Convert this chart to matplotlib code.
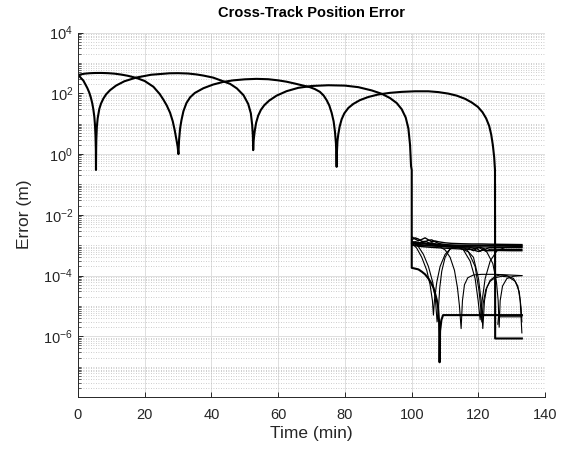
import matplotlib
matplotlib.use("Agg")
import matplotlib.pyplot as plt
from matplotlib.ticker import LogLocator, LogFormatterSciNotation, NullFormatter, FixedLocator

plt.rcParams['font.family'] = ['Liberation Sans', 'DejaVu Sans']
plt.rcParams['mathtext.fontset'] = 'custom'
plt.rcParams['mathtext.rm'] = 'Liberation Sans'
plt.rcParams['mathtext.it'] = 'Liberation Sans:italic'
plt.rcParams['axes.unicode_minus'] = False

# --- main track errors (two interleaved solutions) ---
a_time = [0, 0.5, 1.0, 1.6, 2.2, 2.8, 3.4, 3.9, 4.3, 4.6, 4.9, 5.1, 5.25, 5.35, 5.4,
          5.45, 5.5, 5.65, 5.9, 6.4, 6.9, 7.6, 8.4, 9.6, 11.4, 13.9, 17.4, 21.9, 27.4,
          30.0, 33.0, 35.5, 37.6, 40.5, 43.5, 45.6, 47.6, 49.6, 51.0, 51.8, 52.2, 52.4, 52.5,
          52.6, 52.75, 53.0, 53.4, 54.0, 54.8, 55.8, 57.3, 59.5, 62.5, 66.0, 70.0, 75.0,
          80.0, 84.0, 88.0, 91.0, 93.5, 95.5, 97.0, 98.2, 99.0, 99.5, 99.8, 100.0,
          100.0, 101.0, 102.0, 103.0, 104.0, 105.0, 105.8, 106.5, 107.0, 107.5, 107.9,
          108.2, 108.35, 108.5, 108.9, 109.4, 133.0]
a_err = [400, 360, 310, 265, 200, 150, 105, 70, 46, 30, 17, 9, 4, 1.5, 0.3,
         1.5, 3.1, 7.7, 15, 31, 46, 67, 92, 127, 180, 250, 330, 410, 458,
         462, 450, 420, 385, 330, 250, 205, 146, 87, 45, 22, 9, 4, 1.35,
         2.5, 3.7, 6.2, 11, 18.5, 28.5, 40.5, 58, 84, 118, 152, 175, 185,
         180, 160, 125, 97, 70, 48, 30, 16, 7, 2, 0.4, 0.3,
         1.8e-4, 1.7e-4, 1.6e-4, 1.35e-4, 1.1e-4, 8e-5, 5.8e-5, 4e-5, 2.6e-5, 1.6e-5, 9e-6,
         3e-6, 1.4e-7, 1.5e-6, 3.5e-6, 5e-6, 5e-6]

b_time = [0, 1.0, 2.0, 3.5, 5.0, 7.0, 9.0, 11.0, 13.0, 15.0, 17.6, 20.0, 22.6, 24.5,
          25.6, 26.6, 27.6, 28.4, 29.0, 29.5, 29.85, 30.1,
          30.3, 30.6, 31.0, 31.6, 32.5, 33.6, 35.0, 37.6, 40.5, 43.5, 46.5, 50.0, 53.5,
          57.0, 60.0, 62.5, 65.0, 67.5, 69.5, 71.0, 72.5, 73.6, 74.5, 75.3, 76.0, 76.6,
          77.0, 77.3, 77.5,
          77.6, 77.75, 78.0, 78.4, 79.0, 79.8, 81.0, 82.5, 84.5, 87.0, 90.0, 93.5, 97.0,
          101.0, 105.0, 108.0, 111.0, 113.5, 116.0, 118.0, 119.8, 121.2, 122.3, 123.2,
          123.8, 124.3, 124.7, 124.95, 125.0, 133.0]
b_err = [400, 425, 445, 460, 468, 470, 462, 445, 415, 378, 320, 255, 165, 95,
         62, 40, 23, 12, 6, 3, 1.8, 1.0,
         3, 7, 13, 26, 48, 74, 103, 148, 195, 238, 268, 290, 300,
         292, 268, 242, 210, 180, 160, 138, 112, 85, 60, 40, 23, 12,
         5.5, 2.2, 0.38,
         1.2, 2.7, 4.5, 8, 14, 22, 33, 45, 60, 76, 92, 104, 112,
         117, 117, 110, 98, 84, 66, 50, 36, 24, 15, 8.5,
         4.5, 2, 0.8, 0.3, 8.5e-7, 8.5e-7]

# --- converged runs after the correction at t = 100 min ---
b1_time = [100, 101, 102, 103, 104, 105, 106, 107, 108, 110, 112, 115, 118, 121, 124, 127, 130, 133]
b1_err = [1.9e-3, 1.6e-3, 1.4e-3, 1.55e-3, 1.75e-3, 1.5e-3, 1.3e-3, 1.38e-3, 1.3e-3,
          1.2e-3, 1.15e-3, 1.12e-3, 1.1e-3, 1.1e-3, 1.08e-3, 1.07e-3, 1.06e-3, 1.05e-3]
b2_time = [100, 101, 102, 103, 104, 105, 106, 107, 108, 110, 113, 116, 119, 122, 125, 128, 131, 133]
b2_err = [1.5e-3, 1.75e-3, 1.6e-3, 1.35e-3, 1.3e-3, 1.45e-3, 1.5e-3, 1.3e-3, 1.15e-3,
          1.05e-3, 1.0e-3, 9.8e-4, 9.6e-4, 9.5e-4, 9.5e-4, 9.4e-4, 9.3e-4, 9.3e-4]
b3_time = [100, 101.5, 103, 104.5, 106, 107.5, 109, 111, 114, 117, 119, 120.5, 122, 123.5, 126, 129, 133]
b3_err = [1.3e-3, 1.15e-3, 1.25e-3, 1.1e-3, 1.2e-3, 1.05e-3, 9.5e-4, 9.2e-4, 9.0e-4,
          8.8e-4, 7.6e-4, 8.6e-4, 7.4e-4, 8.5e-4, 8.5e-4, 8.4e-4, 8.3e-4]
b4_time = [100, 102, 104, 106, 108, 111, 114, 117, 118.5, 119.5, 120.5, 121.5, 122.5, 123.5, 125, 128, 131, 133]
b4_err = [1.2e-3, 1.05e-3, 1.15e-3, 1.0e-3, 9.5e-4, 8.8e-4, 8.4e-4, 8.0e-4, 6.6e-4,
          7.8e-4, 6.4e-4, 7.6e-4, 6.5e-4, 7.4e-4, 7.4e-4, 7.3e-4, 7.2e-4, 7.2e-4]
b5_time = [100, 101, 102.5, 104, 105.5, 107, 109, 112, 116, 120, 124, 128, 133]
b5_err = [1.1e-3, 1.3e-3, 1.2e-3, 1.35e-3, 1.15e-3, 1.1e-3, 1.02e-3, 9.9e-4, 9.7e-4,
          9.9e-4, 1.0e-3, 1.0e-3, 1.0e-3]
b6_time = [100, 103, 106, 110, 114, 118, 120, 121.5, 123, 126, 130, 133]
b6_err = [1.0e-3, 9.0e-4, 8.5e-4, 8.0e-4, 7.6e-4, 7.2e-4, 6.2e-4, 7.0e-4, 6.6e-4,
          6.7e-4, 6.6e-4, 6.6e-4]

l1_time = [100, 101.5, 103, 104.5, 105.5, 106.2, 106.5, 106.8, 107.5, 108.5, 110, 111.5, 113, 116, 120, 125, 130, 133]
l1_err = [1.2e-3, 8e-4, 4e-4, 1.5e-4, 5e-5, 1.5e-5, 5e-6, 1.5e-5, 6e-5, 2e-4, 5e-4,
          7.5e-4, 8.5e-4, 9e-4, 8.8e-4, 8.6e-4, 8.5e-4, 8.5e-4]
l2_time = [100, 102, 103.5, 105, 106.3, 107.1, 107.6, 108.0, 108.4, 109.0, 110.0, 111.5, 113, 116, 121, 127, 133]
l2_err = [1.4e-3, 9e-4, 5e-4, 2e-4, 6e-5, 1.6e-5, 3e-6, 8e-6, 4e-5, 1.4e-4, 4e-4,
          7.5e-4, 9.5e-4, 1.0e-3, 9.8e-4, 9.6e-4, 9.5e-4]
l3_time = [100, 105, 108, 110, 111.5, 112.8, 113.7, 114.3, 114.8, 115.2, 115.8, 116.8, 118.5, 121, 125, 129, 133]
l3_err = [1.1e-3, 1.0e-3, 9.5e-4, 7e-4, 4e-4, 1.5e-4, 4e-5, 1e-5, 1.8e-6, 1.5e-5,
          5e-5, 8.5e-5, 1.05e-4, 1.1e-4, 1.1e-4, 1.05e-4, 1.0e-4]
l4_time = [100, 106, 110, 113, 115.5, 117.5, 119, 119.9, 120.5, 121.1, 122, 123.5, 125.5, 128, 131, 133]
l4_err = [1.3e-3, 1.1e-3, 1.0e-3, 9.5e-4, 7e-4, 3e-4, 8e-5, 1.5e-5, 3.5e-6, 1.5e-5,
          8e-5, 3e-4, 6.5e-4, 8.5e-4, 9e-4, 9e-4]
l5_time = [100, 106, 112, 116, 118.5, 120, 120.8, 121.3, 121.8, 122.5, 123.5, 125, 126.5, 128.5, 130.5, 131.8, 132.5, 133]
l5_err = [1.2e-3, 1.05e-3, 9.5e-4, 8e-4, 4e-4, 8e-5, 1.5e-5, 1.8e-6, 1.5e-5, 4e-5,
          7e-5, 9.5e-5, 1.05e-4, 1.0e-4, 8e-5, 4.5e-5, 1.5e-5, 1.3e-6]
l6_time = [100, 108, 114, 117, 119, 120.2, 120.7, 121.0, 121.4, 122.2, 123.5, 125, 127, 129, 131, 132.2, 132.8, 133]
l6_err = [1.0e-3, 9.2e-4, 8.5e-4, 6e-4, 2e-4, 3e-5, 8e-6, 3e-6, 1.2e-5, 3.5e-5,
          6.5e-5, 8.5e-5, 9.5e-5, 9e-5, 6.5e-5, 3e-5, 8e-6, 3e-6]
l7_time = [100, 108, 115, 120, 122.5, 124.3, 125.4, 125.9, 126.2, 126.5, 127.2, 128.5, 130.5, 133]
l7_err = [1.0e-3, 9.5e-4, 9e-4, 8.5e-4, 6e-4, 2.5e-4, 6e-5, 1.5e-5, 2e-6, 1.5e-5,
          4.5e-5, 8e-5, 9.5e-5, 1.0e-4]
l8_time = [125.8, 126.0, 133.0]
l8_err = [2.5e-6, 4.4e-6, 4.4e-6]

bundle = [(b1_time, b1_err), (b2_time, b2_err), (b3_time, b3_err),
          (b4_time, b4_err), (b5_time, b5_err), (b6_time, b6_err)]
lower = [(l1_time, l1_err), (l2_time, l2_err), (l3_time, l3_err), (l4_time, l4_err),
         (l5_time, l5_err), (l6_time, l6_err), (l7_time, l7_err), (l8_time, l8_err)]

fig = plt.figure(figsize=(5.65, 4.53), dpi=100)
ax = fig.add_axes([0.138, 0.124, 0.827, 0.804])

for t, e in lower:
    ax.plot(t, e, color='black', lw=0.8)
for t, e in bundle:
    ax.plot(t, e, color='black', lw=1.0)
ax.plot(a_time, a_err, color='black', lw=1.5)
ax.plot(b_time, b_err, color='black', lw=1.5)

ax.set_yscale('log')
ax.set_xlim(0, 140)
ax.set_ylim(1.02e-8, 1e4)
ax.set_xticks(range(0, 141, 20))
ax.yaxis.set_major_locator(FixedLocator([1e-6, 1e-4, 1e-2, 1e0, 1e2, 1e4]))
ax.yaxis.set_major_formatter(LogFormatterSciNotation())
ax.yaxis.set_minor_locator(LogLocator(base=10, subs=range(1, 10), numticks=30))
ax.yaxis.set_minor_formatter(NullFormatter())

ax.set_axisbelow(True)
ax.grid(True, which='major', color='#dedede', lw=0.7, ls='-')
ax.grid(True, which='minor', axis='y', color='#bdbdbd', lw=0.6, ls=(0, (1, 2)))

for side in ['top', 'right']:
    ax.spines[side].set_visible(False)
for side in ['left', 'bottom']:
    ax.spines[side].set_color('#262626')
    ax.spines[side].set_linewidth(0.7)
ax.tick_params(which='both', direction='in', colors='#262626', labelsize=10.5)
ax.tick_params(which='major', length=3.5, width=0.7)
ax.tick_params(which='minor', length=2, width=0.5)
ax.tick_params(axis='x', pad=8)

ax.set_xlabel('Time (min)', fontsize=12.5, color='#262626', labelpad=3)
ax.set_ylabel('Error (m)', fontsize=12.5, color='#262626', labelpad=8)
ax.set_title('Cross-Track Position Error', fontsize=10.5, fontweight='bold', pad=11)

fig.savefig('out.png', dpi=100)
